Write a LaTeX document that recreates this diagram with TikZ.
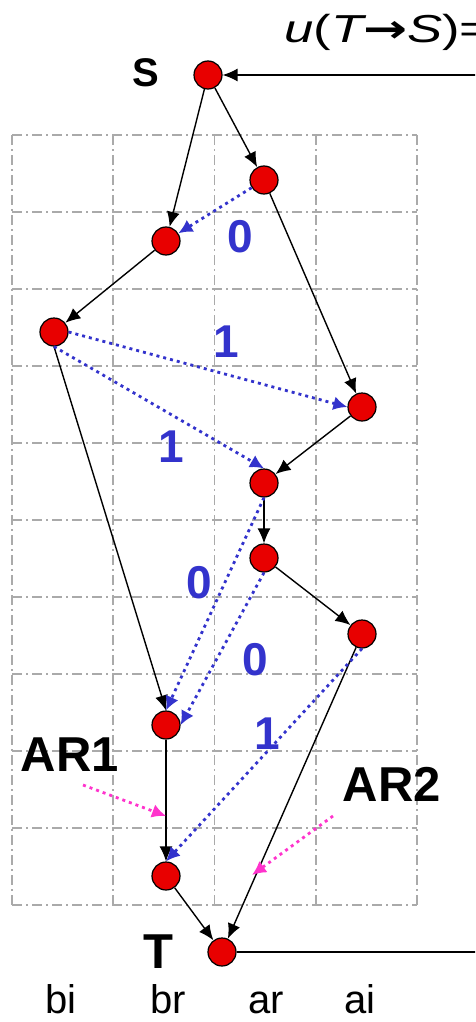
\documentclass[tikz,border=0pt]{standalone}
\usepackage{fontspec}
\setmainfont{Liberation Sans}
\newfontfamily\djv{DejaVu Sans}
\usetikzlibrary{arrows.meta}
\definecolor{nodered}{RGB}{232,0,0}
\definecolor{dotblue}{RGB}{51,51,204}
\definecolor{dotpink}{RGB}{255,51,204}
\definecolor{gridgray}{RGB}{170,170,170}
\begin{document}
\begin{tikzpicture}[x=1pt,y=-1pt,
  vtx/.style={circle,draw=black,fill=nodered,line width=1.2pt,minimum size=28pt,inner sep=0pt},
  blackarrow/.style={draw=black,line width=1.4pt,-{Latex[length=15pt,width=13pt]}},
  bluearrow/.style={draw=dotblue,line width=2.8pt,dash pattern=on 3pt off 4pt,-{Latex[length=14pt,width=14pt]}},
  pinkarrow/.style={draw=dotpink,line width=2.8pt,dash pattern=on 3pt off 4pt,-{Latex[length=14pt,width=14pt]}},
  gridline/.style={draw=gridgray,line width=1.6pt,dash pattern=on 10pt off 4pt on 2pt off 4pt},
  digit/.style={text=dotblue,inner sep=0pt,font=\fontsize{46}{46}\selectfont\bfseries},
  biglbl/.style={inner sep=0pt,font=\fontsize{49}{49}\selectfont\bfseries},
  collbl/.style={inner sep=0pt,anchor=base,font=\fontsize{40}{40}\selectfont}
]
\useasboundingbox (0,0) rectangle (475,1022);
\clip (0,0) rectangle (475,1022);
% grid
\foreach \i in {0,...,4} \draw[gridline] ({12+101.25*\i},135) -- ({12+101.25*\i},905);
\foreach \j in {0,...,10} \draw[gridline] (12,{135+77*\j}) -- (417,{135+77*\j});
% nodes
\node[vtx] (S) at (208,75) {};
\node[vtx] (n1) at (264,180) {};
\node[vtx] (n2) at (166,241) {};
\node[vtx] (n3) at (54,332) {};
\node[vtx] (n4) at (362,407) {};
\node[vtx] (n5) at (264,483) {};
\node[vtx] (n6) at (264,558) {};
\node[vtx] (n7) at (362,634) {};
\node[vtx] (n8) at (166,725) {};
\node[vtx] (n9) at (166,876) {};
\node[vtx] (T) at (222,952) {};
\coordinate (inS) at (476,75);
\coordinate (outT) at (476,952);
% title (horizontally stretched as in the reference)
\node[anchor=base west,inner sep=0pt,font=\fontsize{39}{39}\selectfont] (title) at (284,43)
  {\scalebox{1.35}[1]{\itshape u\upshape(\itshape T\upshape{\djv\bfseries →}\itshape S\upshape)=}};
% labels
\node[inner sep=0pt,font=\fontsize{40}{40}\selectfont\bfseries] (lS) at (146,73) {S};
\node[biglbl] (lT) at (158,952) {T};
\node[biglbl] (lAR1) at (70,755) {AR1};
\node[biglbl] (lAR2) at (392,784) {AR2};
\node[collbl] (bi) at (61,1013) {bi};
\node[collbl] (br) at (168,1013) {br};
\node[collbl] (ar) at (266,1013) {ar};
\node[collbl] (ai) at (360,1013) {ai};
% black edges
\draw[blackarrow] (inS) -- (S);
\draw[draw=black,line width=1.4pt] (T) -- (outT);
\draw[blackarrow] (S) -- (n1);
\draw[blackarrow] (S) -- (n2);
\draw[blackarrow] (n1) -- (n4);
\draw[blackarrow] (n2) -- (n3);
\draw[blackarrow] (n4) -- (n5);
\draw[blackarrow] (n5) -- (n6);
\draw[blackarrow] (n6) -- (n7);
\draw[blackarrow] (n3.south) -- (n8.north);
\draw[blackarrow] (n8) -- (n9);
\draw[blackarrow] (n9) -- (T);
\draw[blackarrow] (n7) -- (T);
% blue dotted edges
\draw[bluearrow] (n1) -- (n2);
\draw[bluearrow] (n3.east) -- (n4.west);
\draw[bluearrow] (n3.south) -- (n5.north);
\draw[bluearrow] (n5.south) -- (n8.north);
\draw[bluearrow] (n6.south) -- (n8.east);
\draw[bluearrow] (n7.south) -- (n9.north);
% digits
\node[digit] (d1) at (240,237) {0};
\node[digit] (d2) at (226,342) {1};
\node[digit] (d3) at (171,447) {1};
\node[digit] (d4) at (199,583) {0};
\node[digit] (d5) at (255,660) {0};
\node[digit] (d6) at (267,734) {1};
% pink arrows
\coordinate (p1s) at (83,785);
\coordinate (p1e) at (166,816);
\coordinate (p2s) at (333,816);
\coordinate (p2e) at (252,875);
\draw[pinkarrow] (p1s) -- (p1e);
\draw[pinkarrow] (p2s) -- (p2e);
\end{tikzpicture}
\end{document}
